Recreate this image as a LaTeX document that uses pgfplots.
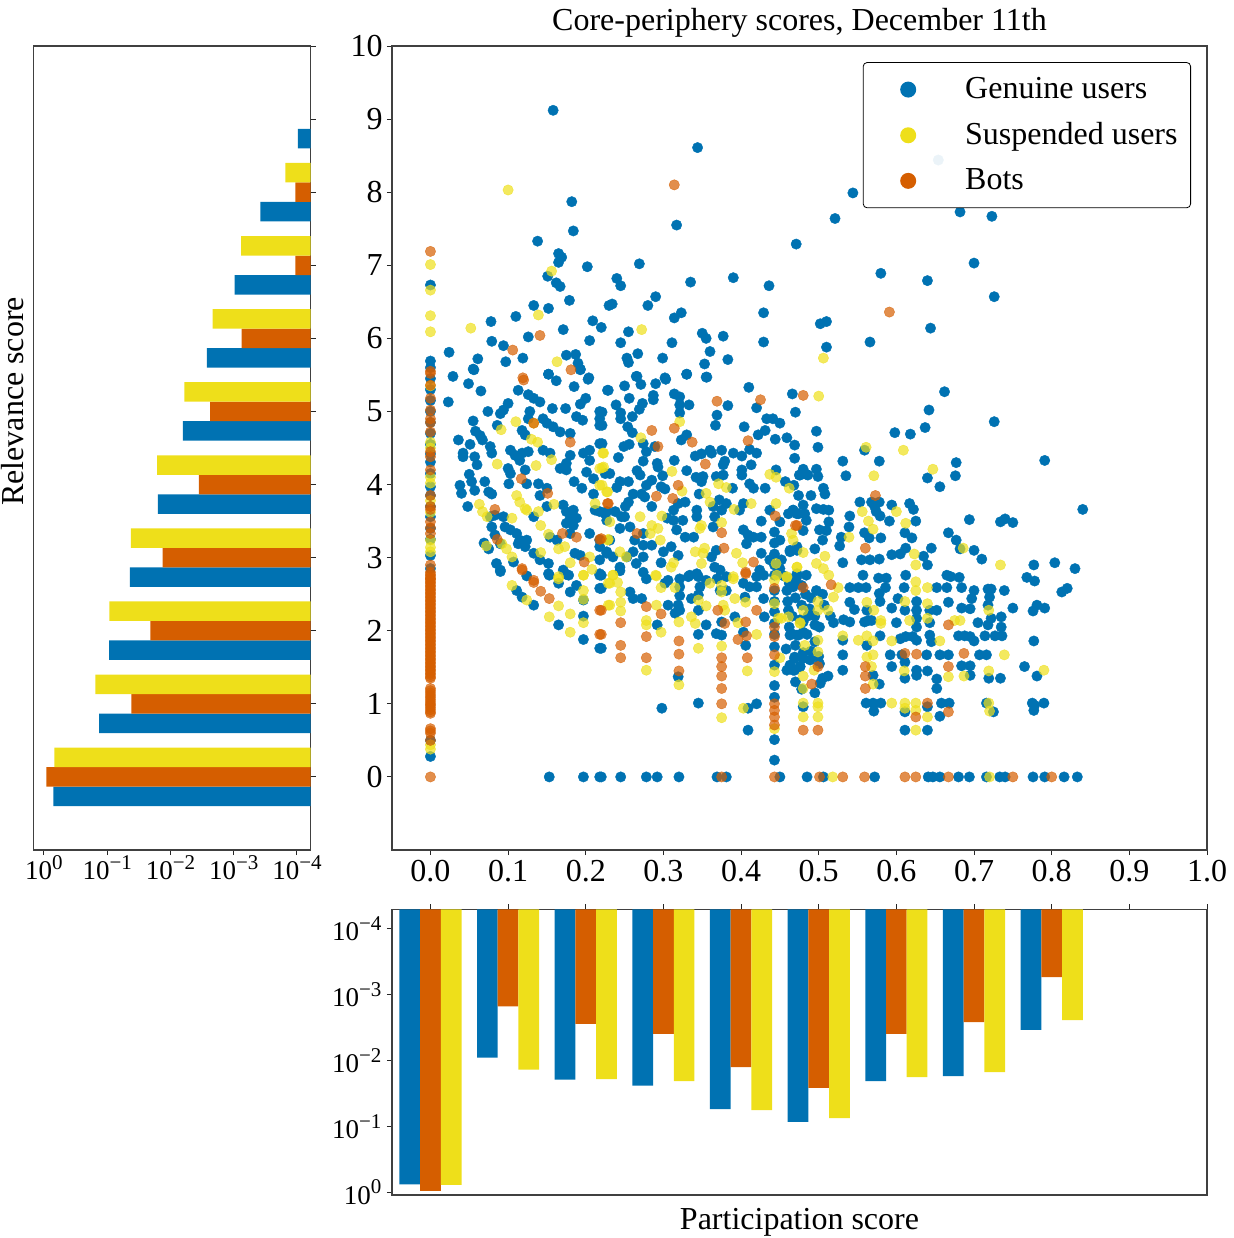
\documentclass[border=0pt]{standalone}
\usepackage{fontspec}
\setmainfont{Liberation Serif}
\usepackage{pgfplots}
\pgfplotsset{compat=1.18}
\definecolor{cblue}{HTML}{0072B2}
\definecolor{corange}{HTML}{D55E00}
\definecolor{cyellow}{HTML}{EEDF1A}
\newcommand{\tenp}[1]{10\raisebox{5.2pt}{\fontsize{10.5}{11}\selectfont #1}}
\pgfplotsset{
  every axis/.append style={
    scale only axis,
    axis line style={black!75,line width=0.6pt},
    tick style={black!85,line width=0.5pt},
    tick align=outside,
    major tick length=2.6pt,
  },
  legdot/.style={legend image code/.code={\path[draw=none,fill=none] (0,-3pt) rectangle (44.5pt,3pt);\fill[#1,draw=none,fill opacity=1] (18pt,0) circle (4pt);}},
  dots/.style={only marks,color=#1,mark=*,mark size=2.6pt,
    mark options={draw=#1,fill=#1,line width=0.2pt,opacity=0.7},legdot=#1},
  bluedots/.style={only marks,color=cblue,mark=*,mark size=2.6pt,
    mark options={draw=cblue,fill=cblue,line width=0.2pt},legdot=cblue},
}
\begin{document}
\begin{tikzpicture}
\path[use as bounding box] (0,0) rectangle (616.5pt,-619pt);

% left histogram
\begin{axis}[
  at={(16.85pt,-425pt)},anchor=south west,
  width=138.5pt,height=402pt,
  xmode=log,x dir=reverse,log origin x=infty,
  xmin=6.07e-5,xmax=1.455,ymin=-1,ymax=10,
  xtick={1,0.1,0.01,0.001,0.0001},
  xticklabels={\tenp{0},\tenp{−1},\tenp{−2},\tenp{−3},\tenp{−4}},
  xminorticks=false,
  ytick={0,1,2,3,4,5,6,7,8,9,10},yticklabels={},
  ytick pos=right,xtick pos=bottom,
  xticklabel style={font=\fontsize{13.5}{15}\selectfont,inner sep=1pt,yshift=1pt},
  ylabel={Relevance score},
  ylabel style={font=\fontsize{16}{18}\selectfont,at={(axis description cs:-0.075,0.558)},anchor=center,rotate=0},
  xbar,bar width=9.75pt,
]
\addplot[fill=cblue,draw=none,bar shift=-9.75pt] coordinates {(0.713,0)(0.135,1)(0.0938,2)(0.0437,3)(0.0158,4)(0.00635,5)(0.00265,6)(0.000966,7)(0.00038,8)(0.0000964,9)};
\addplot[fill=corange,draw=none,bar shift=0pt] coordinates {(0.92,0)(0.0417,1)(0.0208,2)(0.0133,3)(0.00355,4)(0.00237,5)(0.00075,6)(0.000106,7)(0.000106,8)};
\addplot[fill=cyellow,draw=none,bar shift=9.75pt] coordinates {(0.687,0)(0.154,1)(0.0927,2)(0.0422,3)(0.0163,4)(0.00603,5)(0.00215,6)(0.000767,7)(0.000153,8)};
\end{axis}

% bottom histogram
\begin{axis}[
  at={(196pt,-597.5pt)},anchor=south west,
  width=407.5pt,height=142.85pt,
  ymode=log,y dir=reverse,log origin y=infty,
  ymin=5.08e-5,ymax=1.099,xmin=-0.0495,xmax=1.0,
  ytick={1,0.1,0.01,0.001,0.0001},
  yticklabels={\tenp{0},\tenp{−1},\tenp{−2},\tenp{−3},\tenp{−4}},
  yminorticks=false,
  xtick={0,0.1,0.2,0.3,0.4,0.5,0.6,0.7,0.8,0.9,1.0},xticklabels={},
  xtick pos=top,ytick pos=left,
  yticklabel style={font=\fontsize{13.5}{15}\selectfont,inner sep=1pt,xshift=-1.5pt},
  xlabel={Participation score},
  xlabel style={font=\fontsize{16}{18}\selectfont,at={(axis description cs:0.5,-0.094)},anchor=center},
  ybar,bar width=10.36pt,
]
\addplot[fill=cblue,draw=none,bar shift=-10.36pt] coordinates {(0,0.757)(0.1,0.00906)(0.2,0.0195)(0.3,0.0241)(0.4,0.0545)(0.5,0.0857)(0.6,0.0205)(0.7,0.0172)(0.8,0.00344)};
\addplot[fill=corange,draw=none,bar shift=0pt] coordinates {(0,0.955)(0.1,0.00151)(0.2,0.00279)(0.3,0.00396)(0.4,0.0126)(0.5,0.0261)(0.6,0.00396)(0.7,0.00261)(0.8,0.000541)};
\addplot[fill=cyellow,draw=none,bar shift=10.36pt] coordinates {(0,0.774)(0.1,0.0138)(0.2,0.0191)(0.3,0.0205)(0.4,0.0564)(0.5,0.0746)(0.6,0.0178)(0.7,0.015)(0.8,0.00243)};
\end{axis}

% scatter
\begin{axis}[
  at={(196pt,-425pt)},anchor=south west,
  width=407.5pt,height=402pt,
  xmin=-0.0495,xmax=1.0,ymin=-1,ymax=10,
  xtick={0,0.1,0.2,0.3,0.4,0.5,0.6,0.7,0.8,0.9,1.0},
  ytick={0,1,2,3,4,5,6,7,8,9,10},
  xtick pos=bottom,ytick pos=left,
  xticklabel style={/pgf/number format/fixed,/pgf/number format/fixed zerofill,/pgf/number format/precision=1,/pgf/number format/assume math mode=true,yshift=1pt},
  yticklabel style={/pgf/number format/assume math mode=true,xshift=1.5pt},
  tick label style={font=\fontsize{16}{18}\selectfont},
  title={Core-periphery scores, December 11th},
  title style={font=\fontsize{16}{18}\selectfont,yshift=-5pt},
  legend style={at={(0.9804,0.98)},anchor=north east,draw=black,rounded corners=2pt,
    fill=white,fill opacity=0.92,draw opacity=1,text opacity=1,
    font=\fontsize{16}{18}\selectfont,row sep=6.5pt,inner xsep=4.5pt,inner ysep=5.5pt},
  legend cell align=left,
]
\addplot[bluedots] coordinates {
(.654,8.44)
(.158,9.12)(.344,8.61)(.182,7.87)(.184,7.47)(.317,7.55)(.138,7.33)(.165,7.16)(.169,7.11)(.165,7.04)(.202,6.98)(.269,7.02)(.471,7.29)(.151,6.85)(.162,6.76)(.167,6.71)(.240,6.82)(.245,6.72)(.335,6.77)(.390,6.83)(.436,6.72)(.179,6.52)(.133,6.45)(.152,6.41)(.230,6.45)(.234,6.47)(.290,6.57)(.280,6.45)(.323,6.35)(.314,6.28)(.429,6.35)(.110,6.30)(.078,6.23)(.209,6.24)(.220,6.15)(.171,6.12)(.255,6.09)(.350,6.07)(.355,6.00)(.377,6.03)(.126,6.02)(.079,5.96)(.094,5.90)(.205,5.97)(.245,5.94)(.311,5.94)(.429,5.95)(.360,5.82)(.267,5.79)(.253,5.73)(.255,5.67)(.299,5.73)(.383,5.71)(.353,5.65)(.024,5.81)(.061,5.72)(.097,5.68)(.119,5.73)(.175,5.77)(.187,5.78)(.190,5.66)(.193,5.58)(.055,5.58)(.152,5.51)(.266,5.48)(.302,5.46)(.330,5.51)(.355,5.47)(.204,5.46)
(.544,7.99)(.521,7.64)(.682,7.73)(.723,7.67)(.580,6.89)(.640,6.79)(.700,7.03)(.726,6.57)(.502,6.20)(.510,6.23)(.644,6.14)(.566,5.95)(.510,5.88)(.662,5.27)(.642,5.02)(.637,4.78)(.598,4.71)(.618,4.69)(.726,4.86)(.497,4.73)(.499,4.51)(.559,4.47)(.531,4.32)(.578,4.32)(.677,4.30)(.791,4.33)(.480,4.21)(.497,4.21)(.535,4.12)(.640,4.09)(.676,4.12)(.484,4.14)
(.476,4.13)(.486,4.13)(.499,4.11)(.656,3.97)(.840,3.66)(.506,3.95)(.508,3.87)(.474,3.85)(.490,3.85)(.480,3.72)(.553,3.76)(.568,3.76)(.578,3.76)(.572,3.70)(.574,3.63)(.579,3.57)(.594,3.72)(.617,3.74)(.622,3.66)(.540,3.57)(.591,3.50)(.625,3.50)(.694,3.52)(.734,3.49)(.740,3.53)(.750,3.48)(.467,3.65)(.472,3.60)(.482,3.60)(.484,3.51)(.480,3.37)(.497,3.67)(.506,3.66)(.513,3.65)(.513,3.49)(.501,3.38)(.510,3.37)(.505,3.24)(.539,3.42)(.559,3.34)(.565,3.27)(.580,3.27)(.529,3.28)(.527,3.16)(.611,3.34)(.620,3.27)(.667,3.34)(.677,3.24)(.682,3.12)(.700,3.10)(.710,2.98)(.531,2.93)(.555,2.97)(.566,2.97)(.578,2.98)(.594,3.04)(.605,3.05)(.612,3.13)(.635,3.02)(.645,3.13)(.640,2.90)(.495,3.12)(.472,3.10)(.463,3.08)(.777,2.90)(.804,2.93)(.830,2.85)(.768,2.73)(.778,2.68)(.813,2.53)(.820,2.58)(.557,2.76)(.577,2.72)(.587,2.72)(.612,2.76)(.665,2.76)(.670,2.74)(.681,2.73)(.484,2.76)(.472,2.74)(.463,2.71)
(.540,2.59)(.551,2.59)(.561,2.59)(.586,2.59)(.578,2.51)(.579,2.40)(.610,2.59)(.652,2.59)(.665,2.59)(.684,2.59)(.700,2.55)(.718,2.57)(.722,2.57)(.739,2.55)(.697,2.44)(.720,2.46)(.626,2.40)(.626,2.28)(.626,2.17)(.626,2.05)(.602,2.44)(.594,2.31)(.611,2.28)(.667,2.39)(.652,2.28)(.643,2.28)(.540,2.39)(.546,2.29)(.562,2.28)(.564,2.14)(.684,2.31)(.695,2.30)(.718,2.35)(.750,2.31)(.776,2.27)(.781,2.35)(.791,2.31)(.519,2.11)(.532,2.15)(.540,2.12)(.559,2.12)(.568,2.14)(.600,2.11)(.643,2.11)(.705,2.11)(.718,2.08)(.722,2.17)(.735,2.19)(.735,2.05)(.495,2.08)(.501,2.05)(.480,2.12)(.463,1.94)(.472,1.94)(.480,1.98)(.612,1.92)(.605,1.89)(.621,1.92)(.626,1.87)(.643,1.94)(.645,1.85)(.579,1.93)(.562,1.80)(.680,1.93)(.688,1.93)(.695,1.92)(.700,1.86)(.714,1.93)(.727,1.93)(.736,1.93)(.777,1.86)(.531,1.87)(.531,1.67)(.531,1.46)
(.592,1.67)(.607,1.67)(.639,1.67)(.656,1.67)(.667,1.67)(.707,1.67)(.716,1.67)(.611,1.57)(.594,1.51)(.626,1.46)(.626,1.39)(.640,1.45)(.611,1.35)(.652,1.34)(.652,1.21)(.684,1.52)(.695,1.52)(.695,1.39)(.719,1.35)(.734,1.35)(.765,1.51)(.781,1.38)(.570,1.39)(.578,1.27)(.469,1.62)(.480,1.62)(.467,1.46)(.476,1.51)(.463,1.53)(.512,1.38)(.502,1.28)(.501,1.55)(.489,1.60)
(.561,1.01)(.570,1.01)(.580,1.01)(.658,1.01)(.668,1.01)(.716,1.01)(.775,1.01)(.790,1.01)(.777,.91)(.571,.90)(.611,.89)(.656,.83)(.640,.96)(.778,.98)(.725,.89)(.480,.96)(.611,.64)(.640,.64)
(.485,0)(.506,0)(.572,0)(.641,0)(.647,0)(.656,0)(.680,0)(.694,0)(.716,0)(.733,0)(.740,0)(.776,0)(.791,0)(.816,0)(.833,0)
(.029,5.48)(.049,5.38)(.065,5.28)(.023,5.13)(.056,5.57)(.113,5.29)(.126,5.23)(.133,5.18)(.141,5.13)(.152,5.51)(.162,5.42)(.185,5.34)(.203,5.44)(.193,5.57)(.228,5.29)(.200,5.18)(.193,5.10)(.100,5.11)(.094,5.02)(.090,4.97)(.074,5.00)(.157,5.04)(.174,5.04)(.128,5.00)(.126,4.90)(.218,5.00)(.218,4.90)(.218,4.81)(.188,4.93)(.196,4.88)(.055,4.87)(.086,4.81)(.145,4.90)(.150,4.84)(.158,4.79)(.167,4.72)(.180,4.70)(.118,4.74)(.122,4.68)(.058,4.73)(.064,4.67)(.067,4.61)(.036,4.61)(.051,4.55)(.077,4.52)(.079,4.43)(.042,4.43)(.042,4.38)(.057,4.38)(.060,4.27)(.218,4.56)(.103,4.47)(.109,4.40)(.115,4.33)(.118,4.43)(.126,4.45)(.145,4.47)(.154,4.43)(.122,4.20)(.180,4.40)(.175,4.29)(.167,4.22)(.175,4.20)(.197,4.43)(.205,4.47)(.205,4.33)(.100,4.22)(.103,4.15)(.201,4.17)(.210,4.08)(.225,4.15)(.050,4.14)(.053,4.04)(.057,3.92)(.070,4.04)(.038,3.99)(.040,3.88)(.075,3.90)(.079,3.87)(.048,3.70)(.101,4.01)(.124,4.01)(.139,4.01)(.150,3.95)(.141,3.85)(.185,4.04)(.195,3.95)(.210,3.87)(.150,3.70)
(.171,3.72)(.175,3.63)(.184,3.65)(.188,3.54)(.180,3.54)(.175,3.47)(.184,3.44)(.180,3.33)(.212,3.65)(.225,3.60)(.227,3.51)(.205,3.33)(.218,3.24)(.231,3.24)(.077,3.56)(.079,3.42)(.083,3.31)(.090,3.19)(.083,3.58)(.094,3.56)(.133,3.56)(.096,3.42)(.103,3.38)(.111,3.33)(.115,3.24)(.122,3.15)(.163,3.24)(.154,3.28)(.069,3.20)(.124,3.24)(.113,3.19)(.075,3.12)(.133,3.06)(.141,2.97)(.152,2.92)(.152,2.78)(.085,2.92)(.090,2.83)(.186,3.06)(.193,3.03)(.218,2.97)(.218,2.78)(.227,3.06)(.171,2.83)(.175,2.77)(.107,2.94)
(.330,5.51)(.356,5.47)(.265,5.48)(.271,5.37)(.303,5.44)(.290,5.38)(.250,5.35)(.229,5.29)(.256,5.18)(.287,5.22)(.287,5.16)(.239,5.09)(.273,5.11)(.269,5.03)(.314,5.24)(.321,5.20)(.321,5.09)(.333,5.09)(.321,4.98)(.410,5.33)(.383,5.08)(.420,5.05)(.369,4.95)(.367,4.81)(.466,5.24)(.470,4.99)(.245,4.98)(.245,4.90)(.260,4.93)(.254,4.79)(.260,4.71)(.221,4.99)(.221,4.81)(.433,4.90)(.441,4.90)(.450,4.84)(.404,4.79)(.431,4.74)(.422,4.68)(.444,4.62)(.459,4.64)(.469,4.54)(.323,4.61)(.330,4.68)(.274,4.56)(.278,4.45)(.274,4.32)(.256,4.55)(.249,4.52)(.289,4.52)(.221,4.56)(.242,4.37)(.341,4.39)(.349,4.42)(.360,4.47)(.362,4.43)(.375,4.47)(.390,4.43)(.401,4.39)(.411,4.48)(.420,4.43)(.469,4.36)(.314,4.33)(.292,4.29)(.293,4.24)(.379,4.32)(.377,4.27)(.413,4.27)(.330,4.19)(.401,4.20)(.401,4.13)(.266,4.19)(.270,4.13)(.299,4.12)(.231,4.15)(.377,4.13)(.368,4.11)(.342,4.10)(.351,4.11)(.349,4.04)(.285,4.06)(.278,3.99)(.445,4.20)(.475,4.13)(.244,4.04)(.255,4.04)(.240,3.96)(.411,4.01)(.416,3.95)(.431,3.95)(.389,3.95)(.457,4.04)(.468,3.99)(.297,3.97)(.302,3.94)(.346,3.87)(.364,3.70)(.372,3.79)(.381,3.74)(.375,3.65)(.366,3.56)(.403,3.74)(.398,3.65)(.261,3.87)(.272,3.87)(.276,3.83)(.255,3.76)(.251,3.70)(.285,3.70)(.328,3.76)(.319,3.74)(.313,3.65)(.305,3.54)(.343,3.65)(.343,3.56)(.218,3.63)(.227,3.63)(.238,3.63)(.246,3.56)(.257,3.42)(.250,3.56)(.244,3.40)(.437,3.65)(.450,3.49)(.467,3.65)(.474,3.60)(.461,3.60)(.426,3.50)(.313,3.51)(.325,3.51)(.317,3.38)(.364,3.42)(.328,3.28)(.339,3.28)(.403,3.38)(.409,3.31)(.416,3.28)(.426,3.28)(.407,3.19)(.274,3.33)(.285,3.17)(.274,3.17)(.263,3.24)(.218,3.15)(.227,3.08)(.235,3.01)(.261,3.08)(.274,3.01)(.265,2.92)(.244,2.87)(.253,3.01)(.300,3.08)(.310,3.15)(.319,3.03)(.297,2.93)(.332,2.74)(.343,2.78)(.368,3.10)(.362,3.01)(.366,2.87)(.373,2.83)(.426,3.06)(.437,2.97)(.450,3.24)(.463,3.10)(.452,2.97)(.472,3.15)(.472,2.78)(.424,2.83)
(.090,2.81)(.124,2.75)(.153,2.76)(.178,2.76)(.188,2.62)(.180,2.53)(.165,2.65)(.218,2.76)(.218,2.58)(.111,2.55)(.118,2.46)(.133,2.35)(.165,2.08)(.197,2.20)(.197,1.88)(.218,1.76)(.153,0)(.197,0)(.218,0)(.197,2.42)
(.220,2.76)(.220,2.58)(.220,1.76)(.257,2.53)(.261,2.44)(.272,2.44)(.278,2.71)(.274,2.80)(.306,2.35)(.321,2.71)(.321,2.60)(.321,2.48)(.319,2.35)(.315,2.24)(.321,2.28)(.306,2.69)(.302,2.65)(.336,2.44)(.345,2.28)(.345,2.74)(.334,2.76)(.347,2.60)(.345,2.49)(.355,2.69)(.292,2.08)(.392,2.19)(.403,2.65)(.411,2.60)(.405,2.46)(.420,2.60)(.429,2.44)(.430,2.19)(.381,2.74)(.369,2.71)(.381,2.55)(.373,2.55)(.443,2.76)(.443,2.55)(.443,2.26)(.443,1.78)(.443,1.53)(.443,1.25)(.443,1.09)(.443,.51)(.443,.23)(.443,2.40)(.443,2.10)(.443,1.95)(.429,2.76)(.420,2.74)(.461,2.28)(.459,2.55)(.467,2.60)(.465,1.96)(.474,1.94)(.469,1.64)(.459,1.46)(.469,1.46)(.476,1.51)(.355,2.08)(.345,1.95)(.368,1.96)(.375,1.94)(.375,2.12)(.403,1.98)(.406,1.80)(.298,.94)(.345,1.01)(.409,.94)(.420,1.00)(.409,.64)(.319,1.37)(.244,2.82)
(.220,0)(.245,0)(.278,0)(.292,0)(.320,0)(.369,0)(.381,0)(.450,0)
(.450,2.85)(.455,2.75)(.462,2.65)(.470,2.70)(.478,2.62)(.483,2.50)(.490,2.45)(.497,2.55)(.505,2.50)(.470,2.45)(.478,2.35)(.460,2.40)(.488,2.30)(.495,2.20)(.507,2.35)(.515,2.20)(.466,2.20)(.476,2.15)(.486,2.20)(.462,2.05)(.485,1.95)(.495,1.85)(.470,1.80)(.480,1.70)(.490,1.72)(.500,1.65)(.470,1.30)(.478,1.20)(.495,1.15)(.505,1.35)(.458,1.75)(.443,2.90)(.443,3.05)(.443,3.20)(.443,3.35)
(0,6.73)(0,5.69)(0,5.60)(0,5.45)(0,5.30)(0,5.15)(0,5.00)(0,4.85)(0,4.70)(0,4.55)(0,4.42)(0,4.31)(0,4.15)(0,3.97)(0,3.85)(0,3.70)(0,3.56)(0,3.40)(0,3.25)(0,3.03)(0,2.85)(0,.50)(0,.28)
};
\addlegendentry{Genuine users}
\addplot[dots=cyellow] coordinates {
(.100,8.03)(0,7.01)(0,6.66)(0,6.31)(0,6.09)(.052,6.14)(.139,6.32)(.156,6.92)(.272,6.12)(.163,5.68)
(.506,5.73)(.500,5.21)(.561,4.51)(.609,4.47)(.647,4.21)(.571,4.12)
(.600,3.63)(.556,3.63)(.564,3.50)(.570,3.39)(.612,3.47)(.686,3.13)(.539,3.28)(.623,3.05)(.625,2.90)(.734,2.90)(.480,3.07)(.508,3.02)(.497,2.92)(.506,2.85)(.513,2.76)(.472,2.87)(.519,2.46)(.525,2.59)(.625,2.67)(.625,2.55)(.640,2.59)(.562,2.39)(.611,2.40)(.640,2.37)(.499,2.40)(.499,2.28)(.512,2.28)(.480,2.28)(.571,2.28)(.719,2.28)(.580,2.14)(.580,2.10)(.617,2.14)(.640,2.17)(.675,2.14)(.682,2.14)(.476,2.11)(.531,1.93)(.551,1.87)(.562,1.93)(.570,1.86)(.594,1.86)(.656,1.86)(.482,1.80)(.499,1.87)(.499,1.71)(.570,1.67)(.562,1.64)(.739,1.67)(.494,1.46)(.480,1.38)(.480,1.21)(.568,1.51)(.610,1.45)(.667,1.37)(.687,1.38)(.719,1.45)(.790,1.46)(.570,1.27)
(.480,1.01)(.499,1.01)(.594,1.01)(.611,1.01)(.625,1.01)(.719,1.01)(.480,.82)(.499,.96)(.499,.82)(.611,.94)(.625,.91)(.640,.82)(.720,.90)(.625,.64)(.518,0)(.720,0)
(.110,4.86)(.091,4.75)(.133,4.84)(.130,4.62)(.138,4.58)(.086,4.28)(.136,4.26)(.156,4.34)(.222,4.43)(.218,4.22)(.223,4.24)(.218,3.99)(.227,3.90)(.212,3.74)(.111,3.85)(.115,3.76)(.122,3.67)(.124,3.65)(.139,3.63)(.159,3.73)(.063,3.73)(.067,3.63)(.073,3.56)(.105,3.54)(.142,3.44)(.152,3.32)(.228,3.24)(.072,3.16)(.092,3.19)(.098,3.12)(.105,3.01)(.165,3.12)(.173,3.15)(.142,3.07)(.180,2.93)(.205,3.01)(.208,2.84)(.197,2.76)(.165,2.74)
(.223,4.43)(.221,4.23)(.271,4.64)(.321,4.86)(.311,4.18)(.437,4.14)(.445,4.10)(.371,4.01)(.381,3.96)(.462,3.95)(.221,3.99)(.228,3.90)(.324,3.91)(.355,3.88)(.360,3.76)(.445,3.74)(.413,3.74)(.391,3.66)(.270,3.56)(.298,3.57)(.231,3.49)(.375,3.48)(.349,3.44)(.347,3.40)(.285,3.44)(.283,3.33)(.293,3.40)(.296,3.24)(.229,3.25)(.465,3.33)(.467,3.24)(.244,3.08)(.252,3.01)(.341,3.08)(.353,3.13)(.351,3.06)(.394,3.06)(.402,2.93)(.349,2.92)(.313,2.93)(.310,2.87)(.445,2.92)(.472,2.87)(.235,2.76)(.290,2.76)(.390,2.74)(.446,2.76)(.459,2.74)
(.105,2.62)(.124,2.42)(.165,2.71)(.165,2.34)(.153,2.19)(.180,2.23)(.180,1.98)(.197,2.76)(.197,2.55)(.197,2.43)(.197,2.11)(.229,2.65)(.229,2.35)
(.235,2.76)(.231,2.65)(.241,2.66)(.245,2.53)(.231,2.35)(.245,2.39)(.245,2.27)(.278,2.14)(.278,2.08)(.291,2.75)(.297,2.59)(.315,2.59)(.291,2.35)(.297,1.98)(.320,2.12)(.345,2.42)(.355,2.34)(.336,2.19)(.341,2.10)(.360,2.65)(.390,2.71)(.375,2.62)(.375,2.53)(.392,2.44)(.377,2.35)(.379,2.28)(.406,2.39)(.396,2.11)(.420,1.95)(.345,1.76)(.375,1.79)(.278,1.46)(.320,1.26)(.408,1.45)(.403,.94)(.375,.81)(.443,2.69)(.443,2.37)(.448,2.17)(.452,2.17)(.461,2.19)(.459,2.73)(.450,1.63)(.443,1.44)(.443,.66)(.476,2.10)
(0,5.35)(0,4.58)(0,4.50)(0,4.10)(0,4.02)(0,3.78)(0,3.62)(0,3.24)(0,3.14)(0,3.08)(0,.38)(0,.44)
};
\addlegendentry{Suspended users}
\addplot[dots=corange] coordinates {
(.314,8.10)(0,7.19)(.141,6.04)(.106,5.84)(0,5.55)(.181,5.57)(.119,5.46)
(.591,6.36)(.480,5.22)
(.573,3.85)(.472,3.44)(.560,3.13)(.516,2.63)(.480,2.59)(.667,2.08)(.499,1.51)(.611,1.69)(.626,1.68)(.687,1.69)(.560,1.51)(.560,1.38)(.560,1.21)(.667,1.51)(.491,1.27)(.640,1.01)(.625,.82)(.667,.89)(.480,.64)(.499,.64)
(.501,0)(.531,0)(.559,0)(.611,0)(.625,0)(.667,0)(.750,0)(.800,0)
(.120,5.43)(.133,4.84)(.180,4.58)(.117,4.08)(.151,3.88)(.083,3.66)(.086,3.25)(.170,3.33)(.188,3.28)(.218,3.25)(.198,2.94)(.118,2.85)(.133,2.69)(.228,3.74)
(.369,5.14)(.425,5.16)(.285,4.74)(.314,4.77)(.337,4.58)(.409,4.60)(.293,4.52)(.354,4.28)(.319,3.99)(.291,3.84)(.312,3.81)(.229,3.74)(.444,3.57)(.470,3.44)(.375,3.34)(.266,3.33)(.220,3.26)(.378,3.13)(.416,2.94)(.406,2.80)
(.118,2.83)(.133,2.66)(.142,2.54)(.153,2.44)(.218,2.28)(.218,1.95)
(.220,2.28)(.220,1.95)(.245,2.11)(.245,1.80)(.245,1.63)(.278,2.33)(.278,1.92)(.278,1.63)(.297,2.23)(.320,1.86)(.320,1.68)(.320,1.45)(.375,1.63)(.375,1.51)(.375,1.38)(.375,1.21)(.375,1.00)(.370,2.28)(.379,2.10)(.406,2.78)(.406,2.12)(.396,1.88)(.407,1.93)(.408,1.63)(.420,2.28)
(.443,2.58)(.443,2.05)(.443,1.92)(.443,1.67)(.443,1.00)(.443,.91)(.443,.82)(.443,.71)(.375,0)(.443,0)
(0,5.52)(0,5.36)(0,5.18)(0,5.02)(0,4.90)(0,4.85)(0,4.72)(0,4.45)(0,4.38)(0,4.20)(0,3.85)(0,3.70)(0,3.66)(0,3.49)(0,3.41)(0,3.33)(0,2.90)(0,2.71)
(0,2.80)(0,2.77)(0,2.75)(0,2.72)(0,2.70)(0,2.67)(0,2.65)(0,2.62)(0,2.60)(0,2.57)(0,2.55)(0,2.52)(0,2.50)(0,2.47)(0,2.45)(0,2.42)(0,2.40)(0,2.37)(0,2.35)(0,2.32)(0,2.30)(0,2.27)(0,2.25)(0,2.22)(0,2.20)(0,2.17)(0,2.15)(0,2.12)(0,2.10)(0,2.07)(0,2.05)(0,2.02)(0,2.00)(0,1.97)(0,1.95)(0,1.92)(0,1.90)(0,1.87)(0,1.85)(0,1.82)(0,1.80)(0,1.77)(0,1.75)(0,1.72)(0,1.70)(0,1.67)(0,1.65)(0,1.62)(0,1.60)(0,1.57)(0,1.55)(0,1.52)(0,1.50)(0,1.47)(0,1.45)(0,1.42)(0,1.40)(0,1.37)(0,1.35)(0,1.21)(0,1.18)(0,1.15)(0,1.12)(0,1.09)(0,1.06)(0,1.03)(0,1.00)(0,.98)(0,.95)(0,.92)(0,.89)(0,.87)(0,.66)(0,.63)(0,.60)(0,.50)(0,0)
};
\addlegendentry{Bots}
\end{axis}
\end{tikzpicture}
\end{document}
